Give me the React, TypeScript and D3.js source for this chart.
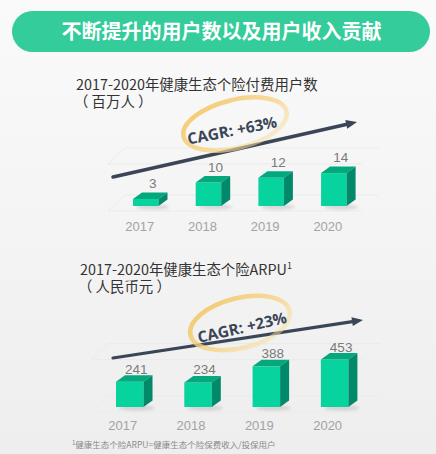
import * as React from 'react';
import * as d3 from 'd3';

const years = ["2017", "2018", "2019", "2020"];
const payingUsers = [3, 10, 12, 14];
const arpu = [241, 234, 388, 453];
const userGrid = [0, 20];
const arpuGrid = [0, 500];
const cagrUsers = "CAGR: +63%";
const cagrArpu = "CAGR: +23%";

const W = 436;
const H = 454;
const CJK = '"Noto Sans CJK SC", "Liberation Sans", sans-serif';
const NUM = '"Liberation Sans", Arial, sans-serif';

const FRONT = "#06d39e";
const TOP = "#03a87c";
const SIDE = "#02896a";
const INK = "#3a4656";

function Chart(props: any) {
    const c = props.cfg;
    const x = d3.scaleBand().domain(years).range(c.xRange).paddingInner(c.pad).paddingOuter(0);
    const y = d3.scaleLinear().domain(c.yDomain).range(c.yRange);
    const bw = x.bandwidth();
    const dx = 9, dy = 6.5;
    const x0 = c.xRange[0] - 25, x1 = c.xRange[1] + 15, fd = 17;
    const ang = Math.atan2(c.arrow[3] - c.arrow[1], c.arrow[2] - c.arrow[0]);
    const ah = 11;
    const ax = c.arrow[2] - ah * Math.cos(ang), ay = c.arrow[3] - ah * Math.sin(ang);
    const head = [
        [c.arrow[2], c.arrow[3]],
        [ax + 4.5 * Math.sin(ang), ay - 4.5 * Math.cos(ang)],
        [ax - 4.5 * Math.sin(ang), ay + 4.5 * Math.cos(ang)],
    ];
    return (
        <g>
            <text x={c.titleX} y={c.titleY} fontFamily={CJK} fontSize={14.4} fill="#333">
                {c.title}{c.sup ? <tspan fontSize={9} dy={-6}>{c.sup}</tspan> : null}
            </text>
            <text x={c.titleX - 2} y={c.titleY + 16.5} fontFamily={CJK} fontSize={14.4} fill="#333"
                  xmlSpace="preserve">{c.unit}</text>

            {/* perspective grid */}
            {c.grid.map((g: number, i: number) => {
                const yf = y(g) + 5, yb = y(g) - 11;
                return (
                    <path key={i} d={`M${x1},${yf}H${x0}L${x0 + fd},${yb}H${x1 + fd}`}
                          stroke="#ebebeb" strokeWidth={1} fill="none" />
                );
            })}

            {/* arrow */}
            <line x1={c.arrow[0]} y1={c.arrow[1]} x2={ax + 2 * Math.cos(ang)} y2={ay + 2 * Math.sin(ang)}
                  stroke={INK} strokeWidth={c.arrowW} strokeLinecap="round" />
            <polygon points={head.map(p => p.join(",")).join(" ")} fill={INK} />

            {/* highlight ring */}
            <g transform={`translate(${c.ring[0]},${c.ring[1]}) rotate(${c.ring[4]})`}>
                <ellipse rx={c.ring[2]} ry={c.ring[3]} fill="none" stroke="url(#ringGrad)" strokeWidth={4.5} />
            </g>
            <text transform={`translate(${c.cagrPos[0]},${c.cagrPos[1]}) rotate(${c.cagrPos[2]})`}
                  textAnchor="middle" dominantBaseline="central" fontFamily='"Open Sans", sans-serif' fontWeight="bold"
                  fontSize={15.5} fill={INK}>{c.cagr}</text>

            {/* bars */}
            {c.values.map((v: number, i: number) => {
                const bx = x(years[i]) as number;
                const by = y(v), b0 = y(0);
                return (
                    <g key={years[i]}>
                        <ellipse cx={bx + bw / 2 + 7} cy={b0 + 1} rx={bw / 2 + 4} ry={2.5} fill="#000" opacity={0.12} filter="url(#blur)" />
                        <rect x={bx} y={by} width={bw} height={b0 - by} fill={FRONT} />
                        <path d={`M${bx},${by}L${bx + dx},${by - dy}H${bx + bw + dx}L${bx + bw},${by}Z`} fill={TOP} />
                        <path d={`M${bx + bw},${by}L${bx + bw + dx},${by - dy}V${b0 - dy}L${bx + bw},${b0}Z`} fill={SIDE} />
                        <text x={bx + bw / 2 + c.labelDx} y={by + c.labelDy} textAnchor="middle"
                              fontFamily={NUM} fontSize={13.5} fill="#7a7a7a">{v}</text>
                        <text x={bx + bw / 2 + c.yearDx} y={c.yearY} textAnchor="middle"
                              fontFamily={NUM} fontSize={13} fill="#a3a3a3">{years[i]}</text>
                    </g>
                );
            })}
        </g>
    );
}

const usersCfg = {
    title: "2017-2020年健康生态个险付费用户数", sup: "", unit: "（ 百万人 ）",
    titleX: 76, titleY: 90,
    values: payingUsers, grid: userGrid,
    xRange: [133, 346.6], pad: 0.593,
    yDomain: [0, 20], yRange: [206, 159],
    labelDx: 7, labelDy: -11, yearDx: -6, yearY: 231,
    arrow: [113, 177, 357, 122], arrowW: 3.5,
    ring: [235, 124, 53, 24, -14],
    cagr: cagrUsers, cagrPos: [232, 130, -11],
};

const arpuCfg = {
    title: "2017-2020年健康生态个险ARPU", sup: "1", unit: "（ 人民币元 ）",
    titleX: 80, titleY: 275,
    values: arpu, grid: arpuGrid,
    xRange: [116, 348.4], pad: 0.597,
    yDomain: [0, 500], yRange: [407, 354.6],
    labelDx: 6.5, labelDy: -8, yearDx: -7, yearY: 430,
    arrow: [113, 358, 363, 320], arrowW: 3.2,
    ring: [240, 323, 51, 25, -14],
    cagr: cagrArpu, cagrPos: [242, 327, -13],
};

export default function App() {
    return (
        <svg width={W} height={H} style={{ position: 'absolute', left: 0, top: 0 }}>
            <defs>
                <linearGradient id="bg" x1="0" y1="0" x2="0" y2="1">
                    <stop offset="0" stopColor="#fafafa" />
                    <stop offset="1" stopColor="#eeeeee" />
                </linearGradient>
                <linearGradient id="ringGrad" x1="0" y1="0" x2="1" y2="1">
                    <stop offset="0" stopColor="#f3c35e" stopOpacity={0.9} />
                    <stop offset="0.6" stopColor="#f6d486" stopOpacity={0.75} />
                    <stop offset="1" stopColor="#f8e2ad" stopOpacity={0.35} />
                </linearGradient>
                <filter id="blur" x="-50%" y="-200%" width="200%" height="500%">
                    <feGaussianBlur stdDeviation="1.5" />
                </filter>
            </defs>
            <rect width={W} height={H} fill="url(#bg)" />
            <rect x={12} y={11} width={418} height={41} rx={20.5} fill="#33cc9a" />
            <text x={221.5} y={39} textAnchor="middle" fontFamily={CJK} fontWeight="bold" fontSize={20} fill="#fff">
                不断提升的用户数以及用户收入贡献
            </text>
            <Chart cfg={usersCfg} />
            <Chart cfg={arpuCfg} />
            <text x={72} y={448} fontFamily={CJK} fontSize={8.5} fill="#8a8a8a">
                <tspan fontSize={6} dy={-3}>1</tspan><tspan dy={3}>健康生态个险ARPU=健康生态个险保费收入/投保用户</tspan>
            </text>
        </svg>
    );
}
